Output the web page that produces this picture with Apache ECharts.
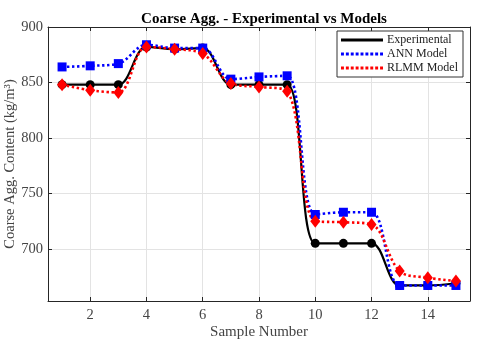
<!DOCTYPE html>
<html>
<head>
<meta charset="utf-8">
<script src="https://cdn.jsdelivr.net/npm/echarts@6/dist/echarts.min.js"></script>
<style>
html, body { margin: 0; padding: 0; background: #fff; }
#main { width: 480px; height: 346px; }
</style>
</head>
<body>
<div id="main"></div>
<script>
var samples = [1, 2, 3, 4, 5, 6, 7, 8, 9, 10, 11, 12, 13, 14, 15];
var experimental = [848, 848, 848, 882, 880, 881, 848, 848, 848, 705, 705, 705, 667, 667, 669];
var annModel = [864, 865, 867, 884, 881, 881, 853, 855, 856, 731, 733, 733, 667, 667, 667];
var rlmmModel = [848, 843, 841, 882, 880, 876, 849, 846, 842, 725, 724, 722, 680, 674, 671];

function pairs(ys) {
    return samples.map(function (x, i) { return [x, ys[i]]; });
}

// dotted legend sample
var dots = '';
for (var i = 0; i < 9; i++) {
    dots += 'M' + (i * 5) + ',0h3v3h-3z';
}
var dotIcon = 'path://' + dots;

var chart = echarts.init(document.getElementById('main'));
var axisColor = '#262626';
var labelColor = '#444';

option = {
    backgroundColor: '#fff',
    animation: false,
    textStyle: { fontFamily: 'Liberation Serif' },
    title: {
        text: 'Coarse Agg. - Experimental vs Models',
        left: 259,
        textAlign: 'center',
        top: 7,
        textStyle: { fontSize: 15, fontWeight: 'bold', color: '#000', fontFamily: 'Liberation Serif' }
    },
    legend: {
        orient: 'vertical',
        left: 337,
        top: 31,
        padding: [2, 5, 2, 4],
        itemGap: 0,
        itemWidth: 42,
        itemHeight: 3,
        backgroundColor: '#fff',
        borderColor: '#333',
        borderWidth: 1,
        borderRadius: 0,
        itemStyle: { borderWidth: 0 },
        textStyle: { fontSize: 12, color: '#222', lineHeight: 14, padding: [0, 0, 0, -1] },
        data: [
            { name: 'Experimental', icon: 'rect' },
            { name: 'ANN Model', icon: dotIcon },
            { name: 'RLMM Model', icon: dotIcon }
        ]
    },
    grid: { left: 48, right: 10, top: 27, bottom: 45, outerBoundsMode: 'none' },
    xAxis: [
        {
            type: 'value',
            min: 0.5,
            max: 15.5,
            splitNumber: 7,
            name: 'Sample Number',
            nameLocation: 'middle',
            nameGap: 24,
            nameMoveOverlap: false,
            nameTextStyle: { fontSize: 15, color: labelColor },
            axisLine: { lineStyle: { color: axisColor } },
            axisTick: { inside: true, length: 4, lineStyle: { color: axisColor } },
            axisLabel: { fontSize: 14.5, color: labelColor, margin: 7, showMinLabel: false, showMaxLabel: false },
            splitLine: { show: true, lineStyle: { color: '#e3e3e3' } }
        },
        {
            type: 'value',
            position: 'top',
            min: 0.5,
            max: 15.5,
            splitNumber: 7,
            axisLine: { lineStyle: { color: axisColor } },
            axisTick: { inside: true, length: 4, lineStyle: { color: axisColor } },
            axisLabel: { show: false },
            splitLine: { show: false }
        }
    ],
    yAxis: [
        {
            type: 'value',
            min: 653,
            max: 900,
            splitNumber: 5,
            name: 'Coarse Agg. Content (kg/m\u00b3)',
            nameLocation: 'middle',
            nameGap: 30,
            nameMoveOverlap: false,
            nameTextStyle: { fontSize: 14.5, color: labelColor },
            axisLine: { show: true, lineStyle: { color: axisColor } },
            axisTick: { show: true, inside: true, length: 4, lineStyle: { color: axisColor } },
            axisLabel: { fontSize: 14.5, color: labelColor, margin: 5, showMinLabel: false },
            splitLine: { show: true, lineStyle: { color: '#e3e3e3' } }
        },
        {
            type: 'value',
            position: 'right',
            min: 653,
            max: 900,
            splitNumber: 5,
            axisLine: { show: true, lineStyle: { color: axisColor } },
            axisTick: { show: true, inside: true, length: 4, lineStyle: { color: axisColor } },
            axisLabel: { show: false },
            splitLine: { show: false }
        }
    ],
    series: [
        {
            name: 'Experimental',
            type: 'line',
            smooth: 0.35,
            data: pairs(experimental),
            symbol: 'circle',
            symbolSize: 9,
            itemStyle: { color: '#000' },
            lineStyle: { color: '#000', width: 2.2 }
        },
        {
            name: 'ANN Model',
            type: 'line',
            smooth: 0.35,
            data: pairs(annModel),
            symbol: 'rect',
            symbolSize: 9,
            itemStyle: { color: '#0000ff' },
            lineStyle: { color: '#0000ff', width: 2.6, type: [2.4, 2.6] }
        },
        {
            name: 'RLMM Model',
            type: 'line',
            smooth: 0.35,
            data: pairs(rlmmModel),
            symbol: 'diamond',
            symbolSize: [10, 13],
            itemStyle: { color: '#ff0000' },
            lineStyle: { color: '#ff0000', width: 2.6, type: [2.4, 2.6] }
        }
    ]
};

chart.setOption(option);
</script>
</body>
</html>
